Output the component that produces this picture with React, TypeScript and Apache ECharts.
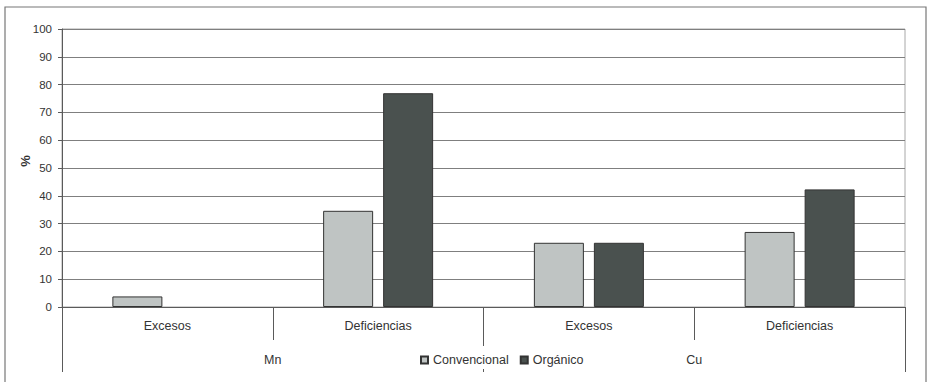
import React, { useEffect, useRef } from "react";
import * as echarts from "echarts";

// Nutrient-status categories, grouped by element
const categories = ["Excesos", "Deficiencias", "Excesos", "Deficiencias"];
const elements = ["Mn", "Cu"];
const seriesNames = ["Convencional", "Orgánico"];
const convencional: (number | null)[] = [3.8, 34.6, 23.1, 27.0];
// No organic excess of Mn was recorded, so that bar is left empty
const organico: (number | null)[] = [null, 76.9, 23.1, 42.3];

const FONT = "'Liberation Sans', Arial, Helvetica, sans-serif";
const TEXT = "#333333";
const LINE = "#5a5a5a";

export default function App() {
  const ref = useRef<HTMLDivElement>(null);

  useEffect(() => {
    document.body.style.margin = "0";
    const chart = echarts.init(ref.current!, null, { renderer: "svg" });
    chart.setOption({
      animation: false,
      backgroundColor: "#ffffff",
      textStyle: { fontFamily: FONT, color: TEXT },
      grid: {
        left: 62,
        right: 23,
        top: 29,
        bottom: 75,
        show: true,
        borderColor: "#a8a8a8",
        borderWidth: 1,
      },
      graphic: [
        {
          type: "rect",
          shape: { x: 5, y: 7, width: 921, height: 400 },
          style: { fill: "none", stroke: "#777777", lineWidth: 1.2 },
          silent: true,
          z: -1,
        },
        {
          // value-axis title
          type: "text",
          x: 25,
          y: 161,
          rotation: Math.PI / 2,
          style: {
            text: "%",
            fontFamily: FONT,
            fontWeight: "bold",
            fontSize: 13,
            fill: TEXT,
            align: "center",
            verticalAlign: "middle",
          },
          silent: true,
        },
      ],
      legend: {
        data: seriesNames,
        left: 416,
        top: 346,
        padding: [7, 4, 2, 4],
        itemGap: 11,
        itemWidth: 7,
        itemHeight: 7,
        icon: "rect",
        backgroundColor: "#ffffff",
        textStyle: {
          fontFamily: FONT,
          fontSize: 12.5,
          lineHeight: 14,
          color: TEXT,
        },
        z: 10,
      },
      xAxis: [
        {
          type: "category",
          data: categories,
          position: "bottom",
          axisLine: { show: true, lineStyle: { color: LINE, width: 1 } },
          axisTick: {
            show: true,
            interval: 0,
            length: 33,
            lineStyle: { color: LINE, width: 1 },
          },
          axisLabel: {
            interval: 0,
            margin: 12,
            fontSize: 12.5,
            color: TEXT,
            fontFamily: FONT,
          },
        },
        {
          type: "category",
          data: elements,
          position: "bottom",
          axisLine: { show: false },
          axisTick: {
            show: true,
            interval: 0,
            length: 65,
            lineStyle: { color: LINE, width: 1 },
          },
          axisLabel: {
            interval: 0,
            margin: 46,
            fontSize: 12.5,
            color: TEXT,
            fontFamily: FONT,
          },
        },
      ],
      yAxis: {
        type: "value",
        min: 0,
        max: 100,
        interval: 10,
        axisLine: { show: true, lineStyle: { color: LINE, width: 1 } },
        axisTick: { show: true, length: 4, lineStyle: { color: LINE } },
        axisLabel: { margin: 10, fontSize: 11.5, color: TEXT, fontFamily: FONT },
        splitLine: { show: true, lineStyle: { color: "#7f7f7f", width: 1 } },
      },
      series: [
        {
          name: seriesNames[0],
          type: "bar",
          data: convencional,
          barWidth: 50,
          barGap: "20%",
          itemStyle: { color: "#bfc4c3", borderColor: "#333333", borderWidth: 1 },
        },
        {
          name: seriesNames[1],
          type: "bar",
          data: organico,
          barWidth: 50,
          barGap: "20%",
          itemStyle: { color: "#4a514f", borderColor: "#333333", borderWidth: 1 },
        },
      ],
    });
    return () => chart.dispose();
  }, []);

  return <div ref={ref} style={{ width: 928, height: 382 }} />;
}
